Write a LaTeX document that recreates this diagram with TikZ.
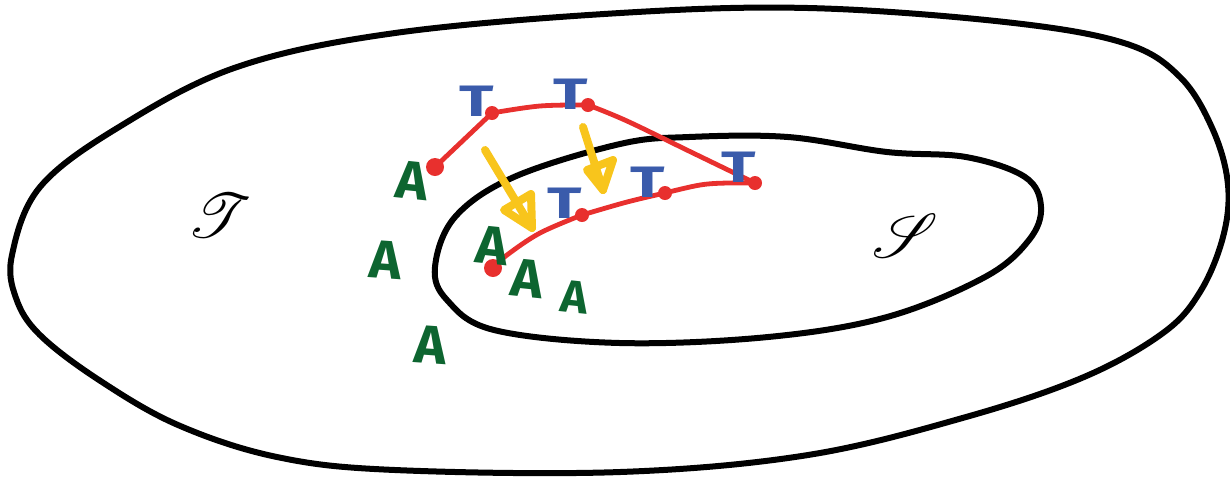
\documentclass[tikz,border=0pt]{standalone}
\usepackage{fontspec}
\usepackage{mathrsfs}
\newfontfamily\hand{Fira Sans}
\definecolor{penred}{HTML}{E8302E}
\definecolor{penblue}{HTML}{3A5BAB}
\definecolor{penyellow}{HTML}{F8C51C}
\definecolor{pengreen}{HTML}{0D6530}
\tikzset{
  outline/.style={draw=black, line width=3pt, line join=round},
  redpath/.style={draw=penred, line width=2.4pt, line cap=round, line join=round},
  reddot/.style={circle, fill=penred, inner sep=0pt, minimum size=7pt},
  bigreddot/.style={circle, fill=penred, inner sep=0pt, minimum size=9pt},
  tletter/.style={text=penblue, inner sep=0pt, font=\hand\bfseries\fontsize{22}{22}\selectfont},
  aletter/.style={text=pengreen, inner sep=0pt, font=\hand\bfseries\fontsize{27}{27}\selectfont},
  yarrow/.style={draw=penyellow, line width=4pt, line cap=round, line join=round},
  region/.style={inner sep=0pt, font=\fontsize{24}{28}\selectfont}
}
\begin{document}
\begin{tikzpicture}[x=0.5pt,y=-0.5pt]
\useasboundingbox (0,0) rectangle (1230,479);
% outer region
\draw[outline] plot[smooth cycle, tension=0.6] coordinates {
 (12,255) (40,187) (119,127) (237,67) (395,33) (620,13) (808,8) (1005,22)
 (1124,43) (1180,77) (1213,130) (1228,185) (1223,237) (1200,292) (1163,333)
 (1084,377) (966,417) (808,455) (620,472) (395,470) (277,457) (178,425)
 (99,380) (40,335) (16,298)};
% inner region
\draw[outline] plot[smooth cycle, tension=0.6] coordinates {
 (435,267) (455,217) (514,177) (620,144) (689,137) (788,137) (887,152)
 (966,157) (1025,177) (1041,207) (1029,240) (985,277) (887,317) (768,337)
 (620,343) (494,330) (447,300)};
% region labels
\node[region] (calT) at (220,216) {\scalebox{1.25}{$\mathscr{T}$}};
\node[region] (calS) at (905,236) {\scalebox{1.25}{$\mathscr{S}$}};
% red points
\coordinate (p0) at (435,167);
\coordinate (p1) at (492,113);
\coordinate (p2) at (588,105);
\coordinate (p3) at (755,183);
\coordinate (q1) at (665,193);
\coordinate (q2) at (582,215);
\coordinate (q0) at (493,268);
% red paths
\draw[redpath] (p0) -- (p1);
\draw[redpath] plot[smooth, tension=0.6] coordinates {(p1) (540,106) (p2)};
\draw[redpath] plot[smooth, tension=0.6] coordinates {(p2) (627,121) (693,153) (p3)};
\draw[redpath] plot[smooth, tension=0.6] coordinates {(p3) (727,183) (700,185) (q1)};
\draw[redpath] plot[smooth, tension=0.6] coordinates {(q1) (627,202) (q2)};
\draw[redpath] plot[smooth, tension=0.6] coordinates {(q2) (540,233) (507,255) (q0)};
\node[bigreddot] (dp0) at (p0) {};
\node[reddot] (dp1) at (p1) {};
\node[reddot] (dp2) at (p2) {};
\node[reddot] (dp3) at (p3) {};
\node[reddot] (dq1) at (q1) {};
\node[reddot] (dq2) at (q2) {};
\node[bigreddot] (dq0) at (q0) {};
% blue T letters
\node[tletter] (t1) at (477,101) {\scalebox{1.45}[1]{T}};
\node[tletter] (t2) at (571,94) {\scalebox{1.45}[1]{T}};
\node[tletter] (t3) at (648,182) {\scalebox{1.45}[1]{T}};
\node[tletter] (t4) at (739,167) {\scalebox{1.45}[1]{T}};
\node[tletter] (t5) at (565,203) {\scalebox{1.45}[1]{T}};
% green A letters
\node[aletter, rotate=-6] (a1) at (412,181) {A};
\node[aletter, rotate=-4] (a2) at (386,260) {A};
\node[aletter, rotate=-6] (a3) at (492,246) {A};
\node[aletter, rotate=-6] (a4) at (527,279) {A};
\node[aletter, rotate=-6, scale=0.85] (a5) at (575,297) {A};
\node[aletter, rotate=-4] (a6) at (431,345) {A};
% yellow arrows
\coordinate (y1s) at (485,150);
\coordinate (y1t) at (532,228);
\coordinate (y1l) at (504,210);
\coordinate (y1r) at (531,194);
\draw[yarrow] (y1s) -- (y1t);
\draw[yarrow] (y1l) -- (y1t) -- (y1r) -- cycle;
\coordinate (y2s) at (583,127);
\coordinate (y2t) at (603,190);
\coordinate (y2l) at (587,170);
\coordinate (y2r) at (613,160);
\draw[yarrow] (y2s) -- (y2t);
\draw[yarrow] (y2l) -- (y2t) -- (y2r) -- cycle;
\end{tikzpicture}
\end{document}
